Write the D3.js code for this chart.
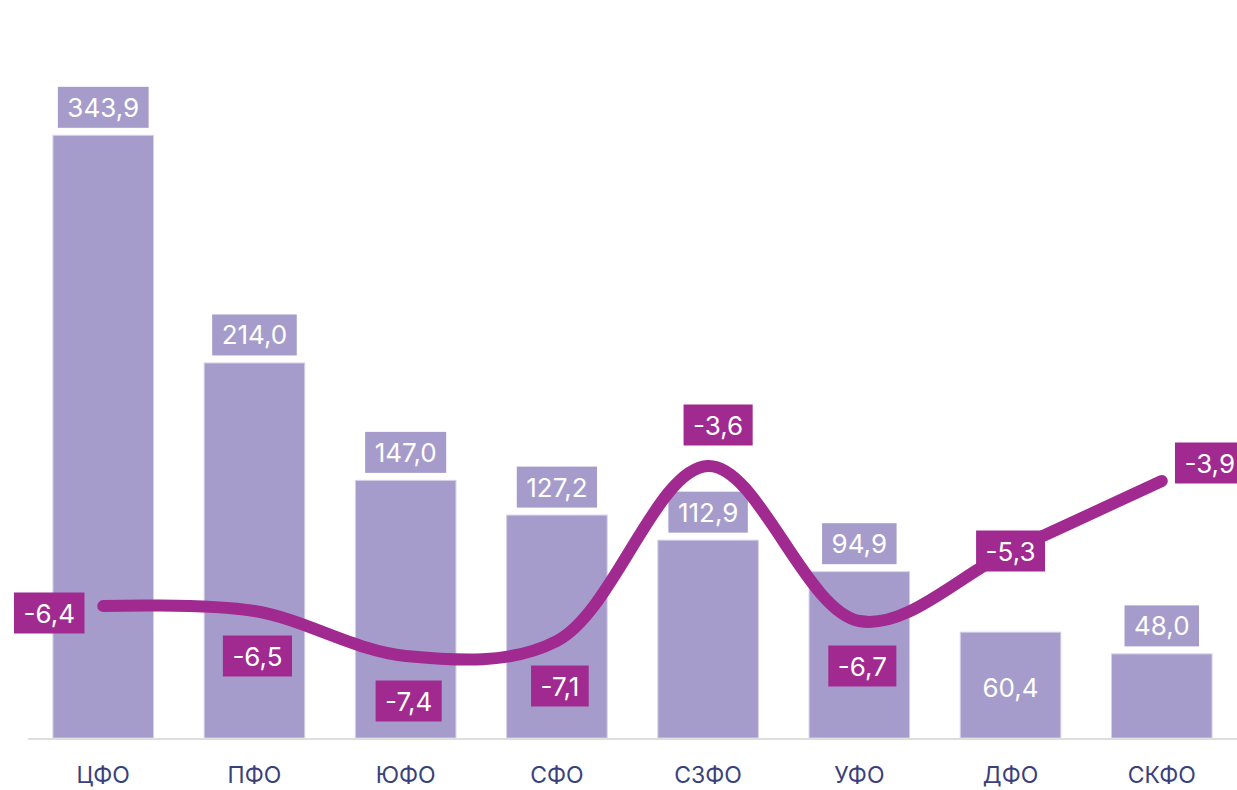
<!DOCTYPE html>
<html>
<head>
  <meta charset="utf-8">
  <title>Федеральные округа</title>
  <script src="https://d3js.org/d3.v7.min.js"></script>
  <style>
    body { margin: 0; background: #fff; }
    text { font-family: Inter, "Noto Sans", sans-serif; }
  </style>
</head>
<body>
<svg width="1237" height="790"></svg>
<script>
  const categories = ["ЦФО", "ПФО", "ЮФО", "СФО", "СЗФО", "УФО", "ДФО", "СКФО"];
  const barValues = [343.9, 214.0, 147.0, 127.2, 112.9, 94.9, 60.4, 48.0];
  const lineValues = [-6.4, -6.5, -7.4, -7.1, -3.6, -6.7, -5.3, -3.9];

  // where each line label sits relative to its point (chart's collision layout)
  const lineLabelPlace = ["left", "below", "below", "below", "above", "below", "center", "right"];
  // the 60,4 label was pushed inside its bar
  const barLabelInside = [false, false, false, false, false, false, true, false];

  const width = 1237, height = 790;
  const baseY = 738;
  const barColor = "#a69ccb";
  const lineColor = "#a02a90";

  const svg = d3.select("svg");

  const x = d3.scaleBand()
          .domain(categories)
          .range([28, 1237])
          .paddingInner(0.335)
          .paddingOuter(0.165);

  const yBar = d3.scaleLinear().domain([0, 400]).range([baseY, 37]);
  const yLine = d3.scaleLinear().domain([-8, -3]).range([686, 436]);

  const fmt = v => v.toFixed(1).replace(".", ",");

  // bars
  svg.append("g").selectAll("rect")
          .data(barValues)
          .enter().append("rect")
          .attr("x", (d, i) => x(categories[i]))
          .attr("y", d => yBar(d))
          .attr("width", x.bandwidth())
          .attr("height", d => baseY - yBar(d))
          .attr("fill", barColor)
          .attr("stroke", "#d6d1e8")
          .attr("stroke-width", 1);

  // baseline
  svg.append("line")
          .attr("x1", 28).attr("x2", 1237)
          .attr("y1", baseY + 1).attr("y2", baseY + 1)
          .attr("stroke", "#dedede")
          .attr("stroke-width", 2);

  // category labels
  svg.append("g").selectAll("text")
          .data(categories)
          .enter().append("text")
          .attr("x", d => x(d) + x.bandwidth() / 2)
          .attr("y", 783)
          .attr("text-anchor", "middle")
          .attr("font-size", 23)
          .attr("fill", "#3b3f7a")
          .text(d => d);

  // helper: label with a filled box behind
  function boxLabel(g, cx, cy, txt, fill) {
    const t = g.append("text")
            .attr("x", cx).attr("y", cy)
            .attr("text-anchor", "middle")
            .attr("dominant-baseline", "central")
            .attr("font-size", 26)
            .attr("fill", "#fff")
            .text(txt);
    const w = t.node().getComputedTextLength() + 19;
    g.insert("rect", "text")
            .attr("x", cx - w / 2).attr("y", cy - 20.5)
            .attr("width", w).attr("height", 41)
            .attr("fill", fill);
  }

  // bar value labels
  barValues.forEach((v, i) => {
    const g = svg.append("g");
    const cx = x(categories[i]) + x.bandwidth() / 2;
    const cy = barLabelInside[i] ? yBar(v) + 55 : yBar(v) - 28;
    boxLabel(g, cx, cy, fmt(v), barColor);
  });

  // line
  const pts = lineValues.map((v, i) => [x(categories[i]) + x.bandwidth() / 2, yLine(v)]);
  svg.append("path")
          .attr("d", d3.line().curve(d3.curveCatmullRom.alpha(0.5))(pts))
          .attr("fill", "none")
          .attr("stroke", lineColor)
          .attr("stroke-width", 12)
          .attr("stroke-linecap", "round");

  // line value labels
  lineValues.forEach((v, i) => {
    const g = svg.append("g");
    let [cx, cy] = pts[i];
    const p = lineLabelPlace[i];
    if (p === "left") { cx -= 54; cy += 7; }
    else if (p === "right") { cx += 48; cy -= 18; }
    else if (p === "above") { cx += 10; cy -= 41; }
    else if (p === "below") { cx += 3; cy += 45; }
    boxLabel(g, cx, cy, fmt(v), lineColor);
  });
</script>
</body>
</html>
